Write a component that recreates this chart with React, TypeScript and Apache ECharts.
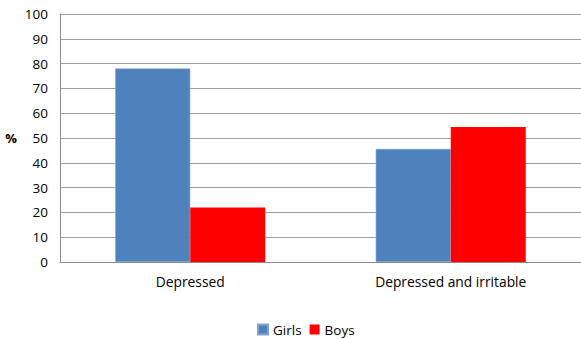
import React, { useEffect, useRef } from "react";
import * as echarts from "echarts";

const categories = ["Depressed", "Depressed and irritable"];
const girls = [78, 45.6];
const boys = [22, 54.4];
const yTicks = { min: 0, max: 100, interval: 10 };

export default function App() {
  const ref = useRef<HTMLDivElement>(null);
  useEffect(() => {
    const chart = echarts.init(ref.current!, null, { renderer: "svg" });
    const font = "'Open Sans', 'Liberation Sans', sans-serif";
    chart.setOption({
      animation: false,
      textStyle: { fontFamily: font },
      grid: { left: 60, top: 14, width: 527, height: 248, containLabel: false },
      legend: {
        data: ["Girls", "Boys"],
        top: 322,
        left: 257,
        padding: 0,
        itemWidth: 10,
        itemHeight: 10,
        itemGap: 8,
        icon: "rect",
        textStyle: { fontSize: 13.5, lineHeight: 15, color: "#000", fontFamily: font },
      },
      xAxis: {
        type: "category",
        data: categories,
        axisLine: { lineStyle: { color: "#8c8c8c", width: 1 } },
        axisTick: { show: false },
        axisLabel: { color: "#000", fontSize: 13.8, margin: 12, fontFamily: font },
      },
      yAxis: {
        type: "value",
        min: yTicks.min,
        max: yTicks.max,
        interval: yTicks.interval,
        name: "%",
        nameLocation: "middle",
        nameRotate: 0,
        nameGap: 43,
        nameTextStyle: { fontWeight: "bold", fontSize: 13, color: "#000", fontFamily: font },
        axisLine: { show: true, lineStyle: { color: "#8c8c8c", width: 1 } },
        axisTick: { show: false },
        splitLine: { lineStyle: { color: "#a0a0a0", width: 1 } },
        axisLabel: { color: "#000", fontSize: 13.5, margin: 12, fontFamily: font },
      },
      series: [
        {
          name: "Girls",
          type: "bar",
          data: girls,
          barWidth: 75,
          barGap: "0%",
          itemStyle: { color: "#4f81bd", borderColor: "#7fa3d1", borderWidth: 0.6 },
        },
        {
          name: "Boys",
          type: "bar",
          data: boys,
          barWidth: 75,
          barGap: "0%",
          itemStyle: { color: "#ff0000" },
        },
      ],
    });
    return () => chart.dispose();
  }, []);
  return <div ref={ref} style={{ width: 581, height: 339, position: "absolute", left: 0, top: 0 }} />;
}
